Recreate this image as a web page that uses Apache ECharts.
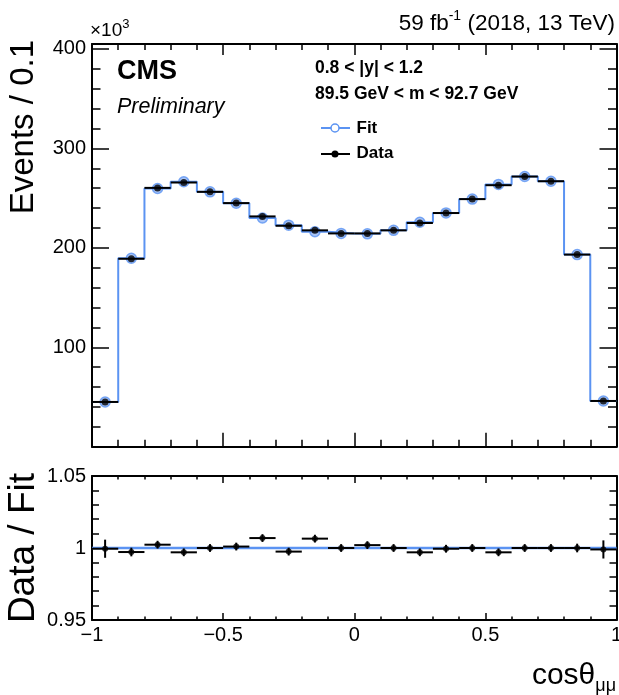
<!DOCTYPE html>
<html>
<head>
<meta charset="utf-8">
<script src="https://cdn.jsdelivr.net/npm/echarts@6/dist/echarts.min.js"></script>
<style>
  html, body { margin: 0; padding: 0; background: #fff; }
  #chart { width: 619px; height: 695px; }
</style>
</head>
<body>
<div id="chart"></div>
<script>
// ---- data ----
const binCenters = [-0.95, -0.85, -0.75, -0.65, -0.55, -0.45, -0.35, -0.25, -0.15, -0.05,
                     0.05,  0.15,  0.25,  0.35,  0.45,  0.55,  0.65,  0.75,  0.85,  0.95];
const binHalfWidth = 0.05;
// Events / 0.1 (x10^3)
const dataValues = [45.0, 189.0, 260.3, 265.7, 256.3, 245.0, 231.6, 222.2, 217.6, 214.5,
                    214.5, 217.6, 225.0, 235.0, 249.0, 263.0, 271.7, 267.0, 193.2, 46.0];
const fitValues  = [45.0, 189.5, 259.7, 266.5, 256.3, 244.8, 230.0, 222.8, 216.2, 214.5,
                    214.1, 217.6, 225.7, 235.1, 249.0, 263.8, 271.7, 267.0, 193.2, 46.0];
// Data / Fit
const ratioValues = [0.9995, 0.9972, 1.0023, 0.9970, 1.0000, 1.0010, 1.0069, 0.9975, 1.0065, 1.0000,
                     1.0020, 1.0000, 0.9970, 0.9995, 1.0000, 0.9970, 1.0000, 1.0000, 1.0000, 0.9990];
const ratioErrors = [0.0063, 0.0030, 0.0027, 0.0027, 0.0027, 0.0027, 0.0027, 0.0027, 0.0027, 0.0027,
                     0.0027, 0.0027, 0.0027, 0.0027, 0.0027, 0.0027, 0.0027, 0.0027, 0.0030, 0.0063];
const fitRatioValues = [1, 1, 1, 1, 1, 1, 1, 1, 1, 1, 1, 1, 1, 1, 1, 1, 1, 1, 1, 1];
const xTicks = { min: -1, max: 1, interval: 0.5 };
const yTopTicks = { min: 0, max: 405, interval: 100 };
const yBotTicks = { min: 0.95, max: 1.05, interval: 0.05 };

// ---- helpers ----
const FONT = '"Liberation Sans", Arial, Helvetica, sans-serif';
const BLUE = '#5b93f2';
function stepPoints(values) {
  const pts = [];
  values.forEach((v, i) => {
    pts.push([binCenters[i] - binHalfWidth, v]);
    pts.push([binCenters[i] + binHalfWidth, v]);
  });
  return pts;
}
function errRows(values, errs) {
  return values.map((v, i) => [binCenters[i], v,
    binCenters[i] - binHalfWidth, binCenters[i] + binHalfWidth,
    v - (errs ? errs[i] : 0), v + (errs ? errs[i] : 0)]);
}
function errorBarRender(params, api) {
  const x = api.value(0), y = api.value(1);
  const a = api.coord([api.value(2), y]), b = api.coord([api.value(3), y]);
  const c = api.coord([x, api.value(4)]), d = api.coord([x, api.value(5)]);
  return { type: 'group', children: [
    { type: 'line', shape: { x1: a[0], y1: a[1], x2: b[0], y2: b[1] }, style: { stroke: '#000', lineWidth: 2 } },
    { type: 'line', shape: { x1: c[0], y1: c[1], x2: d[0], y2: d[1] }, style: { stroke: '#000', lineWidth: 2 } }
  ]};
}

function xAxis(grid, pos, labels, major, minor) {
  return {
    type: 'value', gridIndex: grid, position: pos,
    min: xTicks.min, max: xTicks.max, interval: xTicks.interval,
    axisLine: { show: true, onZero: false, lineStyle: { color: '#000', width: 2 } },
    axisTick: { show: true, inside: true, length: major, lineStyle: { color: '#000', width: 1.5 } },
    minorTick: { show: true, splitNumber: 5, length: minor, lineStyle: { color: '#000', width: 1.5 } },
    axisLabel: { show: labels, margin: 5, color: '#000', fontFamily: FONT, fontSize: 20,
      formatter: v => String(+v.toFixed(2)).replace('-', '\u2212') },
    splitLine: { show: false }
  };
}
function yAxis(grid, pos, t, labels, major, minor, fmt) {
  return {
    type: 'value', gridIndex: grid, position: pos,
    min: t.min, max: t.max, interval: t.interval,
    axisLine: { show: true, onZero: false, lineStyle: { color: '#000', width: 2 } },
    axisTick: { show: true, inside: true, length: major, lineStyle: { color: '#000', width: 1.5 } },
    minorTick: { show: true, splitNumber: 5, length: minor, lineStyle: { color: '#000', width: 1.5 } },
    axisLabel: { show: labels, margin: 6, color: '#000', fontFamily: FONT, fontSize: 20, formatter: fmt },
    splitLine: { show: false }
  };
}

const chart = echarts.init(document.getElementById('chart'), null, { renderer: 'canvas' });
const option = {
  animation: false,
  backgroundColor: '#fff',
  grid: [
    { left: 92, right: 2.5, top: 44, height: 402.7, containLabel: false, outerBoundsMode: 'none' },
    { left: 92, right: 2.5, top: 476, height: 144, containLabel: false, outerBoundsMode: 'none' }
  ],
  xAxis: [
    xAxis(0, 'bottom', false, 14, 7),
    xAxis(0, 'top', false, 11, 6),
    xAxis(1, 'bottom', true, 7, 3.5),
    xAxis(1, 'top', false, 7, 3.5)
  ],
  yAxis: [
    yAxis(0, 'left', yTopTicks, true, 17, 8.5, v => (v === 0 ? '' : String(v))),
    yAxis(0, 'right', yTopTicks, false, 17, 8.5),
    yAxis(1, 'left', yBotTicks, true, 14, 7, v => String(+v.toFixed(2))),
    yAxis(1, 'right', yBotTicks, false, 14, 7)
  ],
  series: [
    { type: 'line', xAxisIndex: 0, yAxisIndex: 0, data: stepPoints(fitValues), showSymbol: false,
      lineStyle: { color: BLUE, width: 2 }, z: 2 },
    { type: 'scatter', xAxisIndex: 0, yAxisIndex: 0, data: fitValues.map((v, i) => [binCenters[i], v]),
      symbol: 'circle', symbolSize: 10,
      itemStyle: { color: 'rgba(100,150,240,0.7)', borderColor: BLUE, borderWidth: 1.5 }, z: 3 },
    { type: 'custom', xAxisIndex: 0, yAxisIndex: 0, data: errRows(dataValues, null),
      renderItem: errorBarRender, z: 4 },
    { type: 'scatter', xAxisIndex: 0, yAxisIndex: 0, data: dataValues.map((v, i) => [binCenters[i], v]),
      symbol: 'circle', symbolSize: 7, itemStyle: { color: '#000' }, z: 5 },

    { type: 'line', xAxisIndex: 2, yAxisIndex: 2, data: stepPoints(fitRatioValues), showSymbol: false,
      lineStyle: { color: BLUE, width: 2.5 }, z: 2 },
    { type: 'custom', xAxisIndex: 2, yAxisIndex: 2, data: errRows(ratioValues, ratioErrors),
      renderItem: errorBarRender, z: 4 },
    { type: 'scatter', xAxisIndex: 2, yAxisIndex: 2, data: ratioValues.map((v, i) => [binCenters[i], v]),
      symbol: 'circle', symbolSize: 6, itemStyle: { color: '#000' }, z: 5 }
  ],
  graphic: [
    { type: 'text', x: 90, y: 29, style: { text: '{a|\u00d710}{s|3}', fill: '#000', verticalAlign: 'middle',
      rich: { a: { fontFamily: FONT, fontSize: 19, verticalAlign: 'bottom', lineHeight: 22 },
              s: { fontFamily: FONT, fontSize: 13, verticalAlign: 'top', lineHeight: 22 } } } },
    { type: 'text', x: 615, y: 22, style: { text: '{a|59 fb}{s|-1}{a| (2018, 13 TeV)}', fill: '#000', align: 'right', verticalAlign: 'middle',
      rich: { a: { fontFamily: FONT, fontSize: 22.5, verticalAlign: 'bottom', lineHeight: 26 },
              s: { fontFamily: FONT, fontSize: 14, verticalAlign: 'top', lineHeight: 26 } } } },
    { type: 'text', x: 117, y: 72, style: { text: 'CMS', fill: '#000', fontFamily: FONT, fontSize: 27, fontWeight: 'bold', verticalAlign: 'middle' } },
    { type: 'text', x: 117, y: 107.5, style: { text: 'Preliminary', fill: '#000', fontFamily: FONT, fontSize: 21.5, fontStyle: 'italic', verticalAlign: 'middle' } },
    { type: 'text', x: 315, y: 68.3, style: { text: '0.8 < |y| < 1.2', fill: '#000', fontFamily: FONT, fontSize: 17.5, fontWeight: 'bold', verticalAlign: 'middle' } },
    { type: 'text', x: 315, y: 93.7, style: { text: '89.5 GeV < m < 92.7 GeV', fill: '#000', fontFamily: FONT, fontSize: 17.5, fontWeight: 'bold', verticalAlign: 'middle' } },
    // legend
    { type: 'line', shape: { x1: 321, y1: 128, x2: 350, y2: 128 }, style: { stroke: BLUE, lineWidth: 2 } },
    { type: 'circle', shape: { cx: 335, cy: 128, r: 4 }, style: { fill: '#fff', stroke: BLUE, lineWidth: 1.5 } },
    { type: 'text', x: 356.5, y: 128.3, style: { text: 'Fit', fill: '#000', fontFamily: FONT, fontSize: 17, fontWeight: 'bold', verticalAlign: 'middle' } },
    { type: 'line', shape: { x1: 321, y1: 154, x2: 350, y2: 154 }, style: { stroke: '#000', lineWidth: 2 } },
    { type: 'circle', shape: { cx: 335, cy: 154, r: 3.5 }, style: { fill: '#000' } },
    { type: 'text', x: 356.5, y: 153.7, style: { text: 'Data', fill: '#000', fontFamily: FONT, fontSize: 17, fontWeight: 'bold', verticalAlign: 'middle' } },
    // axis titles
    { type: 'text', x: 24, y: 40, rotation: Math.PI / 2, style: { text: 'Events / 0.1', fill: '#000', fontFamily: FONT, fontSize: 33, align: 'right', verticalAlign: 'middle' } },
    { type: 'text', x: 24, y: 473, rotation: Math.PI / 2, style: { text: 'Data / Fit', fill: '#000', fontFamily: FONT, fontSize: 37, align: 'right', verticalAlign: 'middle' } },
    { type: 'text', x: 616, y: 678, style: { text: '{a|cos\u03b8}{s|\u03bc\u03bc}', fill: '#000', align: 'right', verticalAlign: 'middle',
      rich: { a: { fontFamily: FONT, fontSize: 30, verticalAlign: 'top', lineHeight: 34 },
              s: { fontFamily: FONT, fontSize: 18, verticalAlign: 'bottom', lineHeight: 34 } } } }
  ]
};
chart.setOption(option);
</script>
</body>
</html>
